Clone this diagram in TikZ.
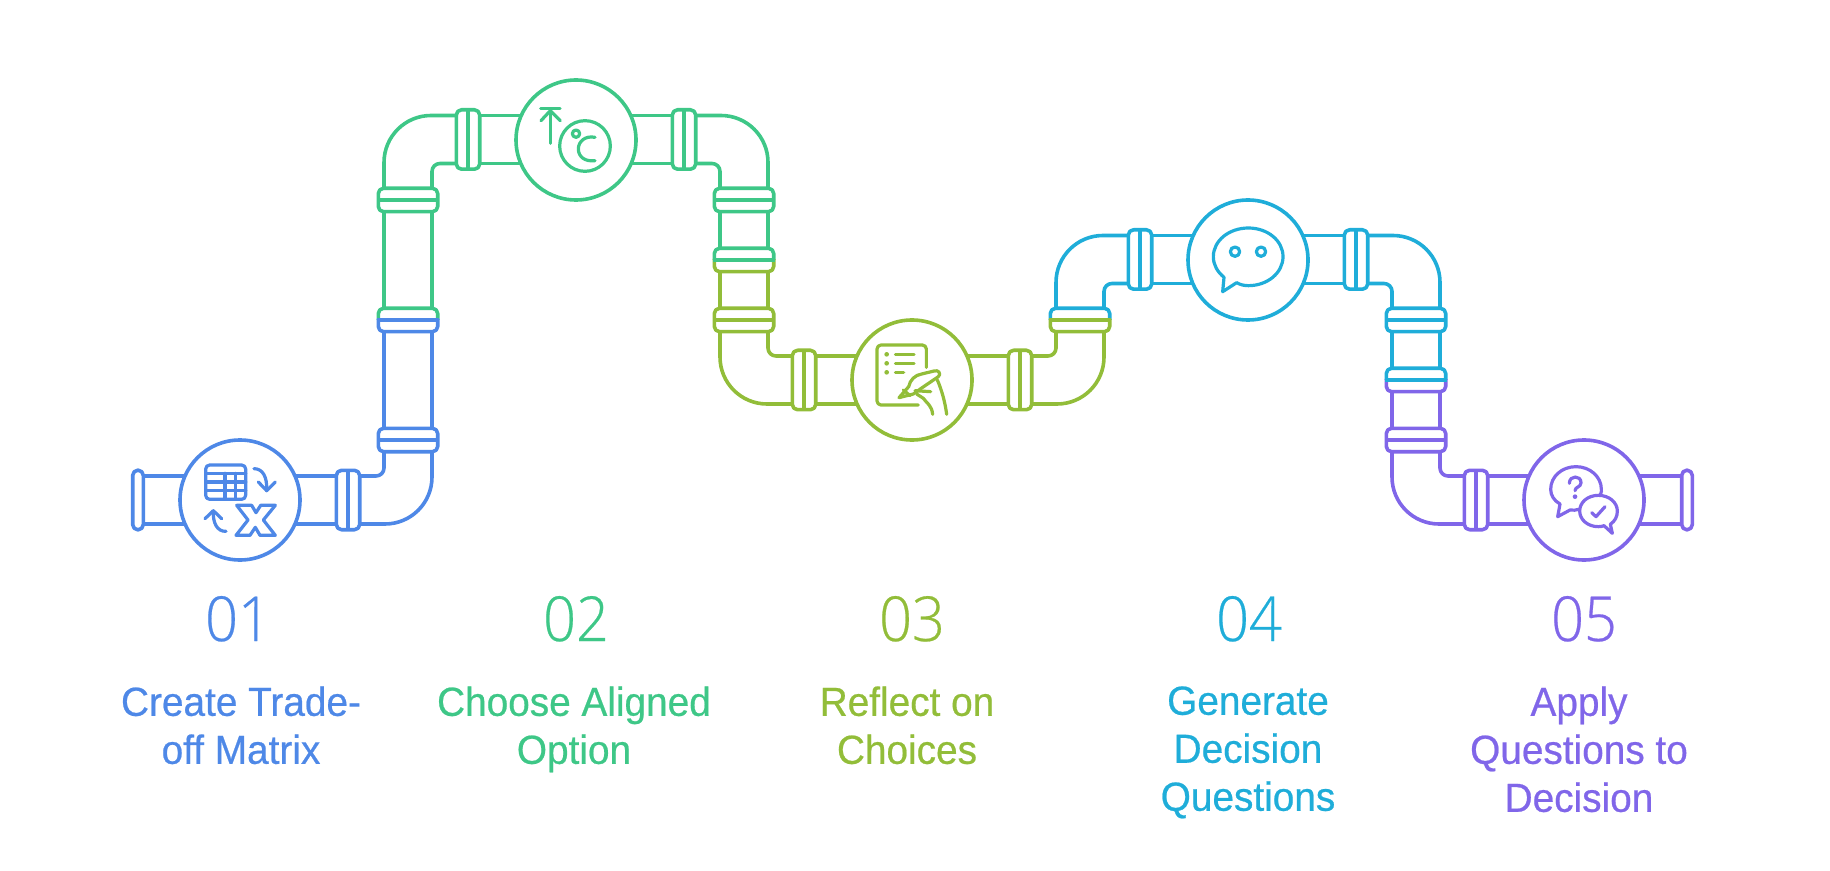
\documentclass[tikz,border=0pt]{standalone}
\usepackage{fontspec}
\setmainfont[FakeStretch=0.955,FakeBold=0.55]{Liberation Sans}
\newfontfamily\numfont[FakeStretch=0.93,FakeBold=0.4]{Open Sans Light}
\definecolor{cA}{HTML}{4E88E7}
\definecolor{cB}{HTML}{3EC787}
\definecolor{cC}{HTML}{92BD39}
\definecolor{cD}{HTML}{1FADD9}
\definecolor{cE}{HTML}{8066E9}
\tikzset{
  pipe/.style={line width=1.8pt,line join=round},
  elbowout/.style={pipe,rounded corners=23.5pt},
  elbowin/.style={pipe,rounded corners=4pt},
  flangebox/.style={pipe,rounded corners=2.6pt,fill=white},
  valve/.style={circle,draw=#1,line width=1.8pt,fill=white,minimum size=60pt,inner sep=0pt,outer sep=0pt},
  glyph/.style={line width=1.6pt,line cap=round,line join=round},
  numlabel/.style={text=#1,anchor=base,font=\numfont\fontsize{31}{36}\selectfont,inner sep=0pt},
  steplabel/.style={text=#1,anchor=north,align=center,font=\fontsize{20.3}{24}\selectfont,inner sep=0pt},
}
% flange across a horizontal run
\newcommand{\hflange}[3]{\draw[flangebox,draw=#3] (#1-11.7,#2-29.7) rectangle (#1+11.7,#2+29.7);\draw[pipe,draw=#3] (#1,#2-29.7) -- (#1,#2+29.7);}
% flange across a vertical run
\newcommand{\vflange}[3]{\draw[flangebox,draw=#3] (#1-29.7,#2-11.7) rectangle (#1+29.7,#2+11.7);\draw[pipe,draw=#3] (#1-29.7,#2) -- (#1+29.7,#2);}
% two-colour flange: x, y, upper colour, lower colour, colour of the middle line
\newcommand{\sflange}[5]{%
  \begin{scope}\clip (#1-40,#2-20) rectangle (#1+40,#2);\draw[flangebox,draw=#3] (#1-29.7,#2-11.7) rectangle (#1+29.7,#2+11.7);\end{scope}
  \begin{scope}\clip (#1-40,#2) rectangle (#1+40,#2+20);\draw[flangebox,draw=#4] (#1-29.7,#2-11.7) rectangle (#1+29.7,#2+11.7);\end{scope}
  \draw[pipe,draw=#5] (#1-31.4,#2) -- (#1+31.4,#2);}
\begin{document}
\begin{tikzpicture}[x=0.5pt,y=-0.5pt]
\useasboundingbox (0,0) rectangle (1830,871);
% ---------- pipes
% step 1
\draw[pipe,draw=cA] (138,476) -- (348,476) (138,524) -- (348,524);
\draw[elbowout,draw=cA] (348,524) -- (432,524) -- (432,440);
\draw[elbowin,draw=cA] (348,476) -- (384,476) -- (384,440);
\draw[pipe,draw=cA] (384,440) -- (384,320) (432,440) -- (432,320);
% step 2
\draw[pipe,draw=cB] (384,320) -- (384,200) (432,320) -- (432,200);
\draw[elbowout,draw=cB] (384,200) -- (384,115.5) -- (467,115.5);
\draw[elbowin,draw=cB] (432,200) -- (432,163.5) -- (467,163.5);
\draw[pipe,draw=cB] (467,115.5) -- (684,115.5) (467,163.5) -- (684,163.5);
\draw[elbowout,draw=cB] (684,115.5) -- (768,115.5) -- (768,200);
\draw[elbowin,draw=cB] (684,163.5) -- (720,163.5) -- (720,200);
\draw[pipe,draw=cB] (720,200) -- (720,260) (768,200) -- (768,260);
% step 3
\draw[pipe,draw=cC] (720,260) -- (720,320) (768,260) -- (768,320);
\draw[elbowout,draw=cC] (720,320) -- (720,404) -- (804,404);
\draw[elbowin,draw=cC] (768,320) -- (768,356) -- (804,356);
\draw[pipe,draw=cC] (804,356) -- (1020,356) (804,404) -- (1020,404);
\draw[elbowout,draw=cC] (1020,404) -- (1104,404) -- (1104,320);
\draw[elbowin,draw=cC] (1020,356) -- (1056,356) -- (1056,320);
% step 4
\draw[elbowout,draw=cD] (1056,320) -- (1056,235.5) -- (1140,235.5);
\draw[elbowin,draw=cD] (1104,320) -- (1104,283.5) -- (1140,283.5);
\draw[pipe,draw=cD] (1140,235.5) -- (1356,235.5) (1140,283.5) -- (1356,283.5);
\draw[elbowout,draw=cD] (1356,235.5) -- (1440,235.5) -- (1440,320);
\draw[elbowin,draw=cD] (1356,283.5) -- (1392,283.5) -- (1392,320);
\draw[pipe,draw=cD] (1392,320) -- (1392,380) (1440,320) -- (1440,380);
% step 5
\draw[pipe,draw=cE] (1392,380) -- (1392,440) (1440,380) -- (1440,440);
\draw[elbowout,draw=cE] (1392,440) -- (1392,524) -- (1476,524);
\draw[elbowin,draw=cE] (1440,440) -- (1440,476) -- (1476,476);
\draw[pipe,draw=cE] (1476,476) -- (1687,476) (1476,524) -- (1687,524);
% ---------- flanges
\draw[flangebox,draw=cA] (132.7,470.2) rectangle (143.3,529.8);
\hflange{348}{500}{cA}
\vflange{408}{440}{cA}
\sflange{408}{320}{cB}{cA}{cA}
\vflange{408}{200}{cB}
\hflange{468}{139.5}{cB}
\hflange{684}{139.5}{cB}
\vflange{744}{200}{cB}
\sflange{744}{260}{cB}{cC}{cB}
\vflange{744}{320}{cC}
\hflange{804}{380}{cC}
\hflange{1020}{380}{cC}
\sflange{1080}{320}{cD}{cC}{cC}
\hflange{1140}{259.5}{cD}
\hflange{1356}{259.5}{cD}
\vflange{1416}{320}{cD}
\sflange{1416}{380}{cD}{cE}{cD}
\vflange{1416}{440}{cE}
\hflange{1476}{500}{cE}
\draw[flangebox,draw=cE] (1681.7,470.2) rectangle (1692.3,529.8);
% ---------- valves
\node[valve=cA] (c1) at (240,500) {};
\node[valve=cB] (c2) at (576,140) {};
\node[valve=cC] (c3) at (912,380) {};
\node[valve=cD] (c4) at (1248,260) {};
\node[valve=cE] (c5) at (1584,500) {};
% ---------- icon 1
\begin{scope}[shift={(110,280)},x=0.16667pt,y=-0.16667pt,glyph,draw=cA]
\draw[rounded corners=2pt] (287,555) rectangle (407,658);
\draw (287,580) -- (407,580) (287,606) -- (407,606) (287,632) -- (407,632);
\draw (345,580) -- (345,658) (376,580) -- (376,658);
\draw (432,566) .. controls (458,566) and (472,590) .. (470,632);
\draw (445,606) -- (470,632) -- (496,606);
\draw (310,692) .. controls (308,730) and (322,755) .. (348,754);
\draw (285,716) -- (310,692) -- (335,716);
\draw (380,676) -- (425,676) -- (438,698) -- (452,676) -- (496,676) -- (460,720) -- (496,766) -- (450,766) -- (436,742) -- (420,766) -- (378,766) -- (414,720) -- cycle;
\end{scope}
% ---------- icon 2
\begin{scope}[shift={(360,60)},x=0.16667pt,y=-0.16667pt,glyph,draw=cB]
\draw (542,145) -- (600,145) (571,148) -- (571,250);
\draw (543,182) -- (571,152) -- (601,182);
\draw (675,258) circle[radius=76];
\draw (648,221) circle[radius=11];
\draw (705,232) .. controls (675,226) and (655,245) .. (655,267) .. controls (655,290) and (675,306) .. (705,302);
\end{scope}
% ---------- icon 3
\begin{scope}[shift={(700,230)},x=0.16667pt,y=-0.16667pt,glyph,draw=cC]
\draw[rounded corners=2pt] (679,412) -- (679,345) -- (531,345) -- (531,525) -- (655,525);
\fill[cC] (560,373) circle[radius=7] (560,400) circle[radius=7] (560,427) circle[radius=7];
\draw (586,373) -- (642,373) (586,400) -- (642,400) (586,427) -- (611,427);
\draw (597,503) -- (626,470) .. controls (630,450) and (645,435) .. (665,432) -- (702,423) .. controls (715,418) and (725,432) .. (715,440) -- (665,474) -- (640,492) -- cycle;
\draw (610,480) -- (630,497);
\draw (645,482) -- (692,485);
\draw (650,492) -- (670,505) .. controls (680,520) and (695,525) .. (698,553);
\draw (712,450) .. controls (725,480) and (735,515) .. (740,553);
\end{scope}
% ---------- icon 4
\begin{scope}[shift={(1040,180)},x=0.16667pt,y=-0.16667pt,glyph,draw=cD]
\draw (590,308) .. controls (600,314) and (612,317) .. (625,317) .. controls (683,317) and (729,278) .. (729,230) .. controls (729,182) and (683,144) .. (625,144) .. controls (567,144) and (520,182) .. (520,230) .. controls (520,255) and (532,275) .. (552,292) -- (548,335) -- cycle;
\draw (585,215) circle[radius=14] (663,215) circle[radius=14];
\end{scope}
% ---------- icon 5
\begin{scope}[shift={(1360,360)},x=0.16667pt,y=-0.16667pt,glyph,draw=cE]
\draw (722,402) .. controls (725,395) and (724,392) .. (724,388) .. controls (724,350) and (690,320) .. (648,320) .. controls (605,320) and (572,350) .. (572,388) .. controls (572,406) and (582,422) .. (600,432) -- (593,470) -- (630,450) .. controls (640,451) and (648,451) .. (656,448);
\draw (628,370) .. controls (628,345) and (663,345) .. (663,368) .. controls (663,382) and (645,380) .. (645,392);
\fill[cE] (645,410) circle[radius=7];
\draw (757,520) -- (751,493) .. controls (765,483) and (772,470) .. (772,453) .. controls (772,427) and (747,406) .. (715,406) .. controls (683,406) and (659,427) .. (659,453) .. controls (659,479) and (683,500) .. (715,500) .. controls (722,500) and (727,499) .. (732,497) -- cycle;
\draw (695,458) -- (708,470) -- (735,440);
\end{scope}
% ---------- numbers
\node[numlabel=cA] (n1) at (238,641) {01};
\node[numlabel=cB] (n2) at (576,641) {02};
\node[numlabel=cC] (n3) at (912,641) {03};
\node[numlabel=cD] (n4) at (1249,641) {04};
\node[numlabel=cE] (n5) at (1584,641) {05};
% ---------- labels
\node[steplabel=cA] (t1) at (241,686) {Create Trade-\\off Matrix};
\node[steplabel=cB] (t2) at (574,686) {Choose Aligned\\Option};
\node[steplabel=cC] (t3) at (907,686) {Reflect on\\Choices};
\node[steplabel=cD] (t4) at (1248,686) {Generate\\Decision\\Questions};
\node[steplabel=cE] (t5) at (1579,686) {Apply\\Questions to\\Decision};
\end{tikzpicture}
\end{document}
